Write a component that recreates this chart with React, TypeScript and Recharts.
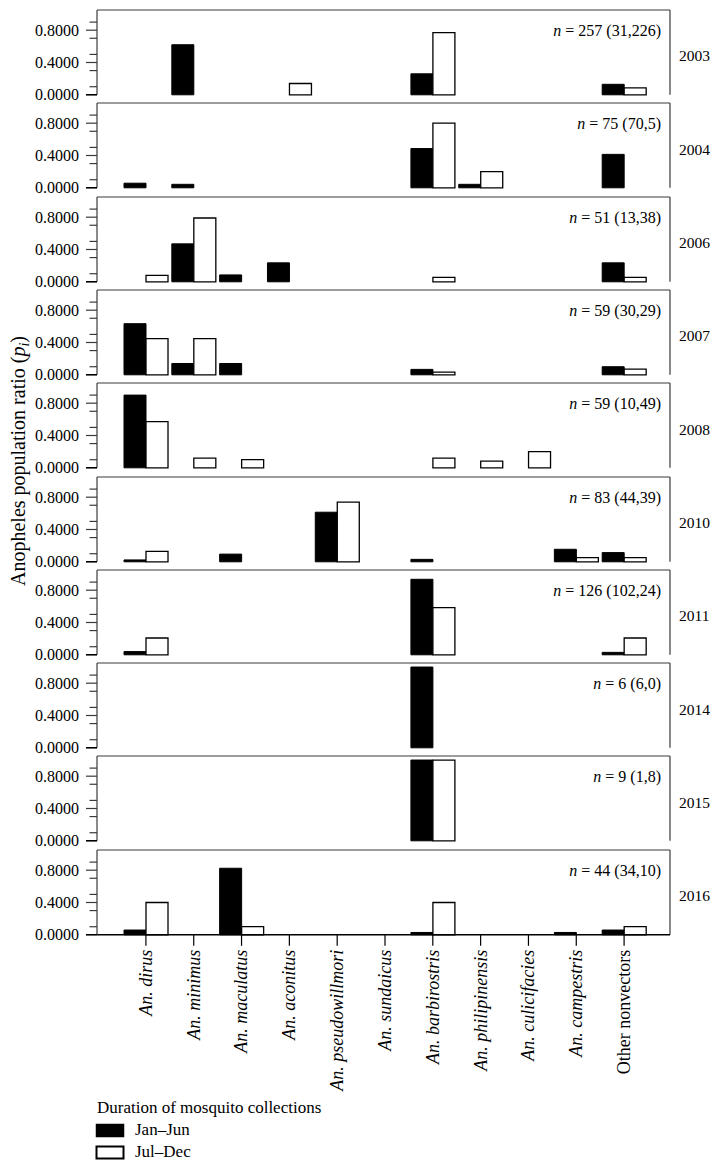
import React from 'react';
import { BarChart, Bar, XAxis, YAxis, CartesianGrid } from 'recharts';

// ---------- data ----------
const categories = [
  'An. dirus',
  'An. minimus',
  'An. maculatus',
  'An. aconitus',
  'An. pseudowillmori',
  'An. sundaicus',
  'An. barbirostris',
  'An. philipinensis',
  'An. culicifacies',
  'An. campestris',
  'Other nonvectors',
];

const years = ['2003', '2004', '2006', '2007', '2008', '2010', '2011', '2014', '2015', '2016'];

const sampleSizes = [
  '257 (31,226)',
  '75 (70,5)',
  '51 (13,38)',
  '59 (30,29)',
  '59 (10,49)',
  '83 (44,39)',
  '126 (102,24)',
  '6 (6,0)',
  '9 (1,8)',
  '44 (34,10)',
];

const janJun2003 = [0, 0.62, 0, 0, 0, 0, 0.26, 0, 0, 0, 0.13];
const julDec2003 = [0, 0, 0, 0.14, 0, 0, 0.77, 0, 0, 0, 0.085];
const janJun2004 = [0.057, 0.043, 0, 0, 0, 0, 0.486, 0.043, 0, 0, 0.414];
const julDec2004 = [0, 0, 0, 0, 0, 0, 0.8, 0.2, 0, 0, 0];
const janJun2006 = [0, 0.47, 0.085, 0.235, 0, 0, 0, 0, 0, 0, 0.235];
const julDec2006 = [0.08, 0.79, 0, 0, 0, 0, 0.055, 0, 0, 0, 0.055];
const janJun2007 = [0.633, 0.14, 0.14, 0, 0, 0, 0.067, 0, 0, 0, 0.1];
const julDec2007 = [0.448, 0.448, 0, 0, 0, 0, 0.034, 0, 0, 0, 0.069];
const janJun2008 = [0.9, 0, 0, 0, 0, 0, 0, 0, 0, 0, 0];
const julDec2008 = [0.571, 0.12, 0.1, 0, 0, 0, 0.12, 0.082, 0.2, 0, 0];
const janJun2010 = [0.023, 0, 0.095, 0, 0.614, 0, 0.03, 0, 0, 0.155, 0.114];
const julDec2010 = [0.128, 0, 0, 0, 0.74, 0, 0, 0, 0, 0.051, 0.051];
const janJun2011 = [0.04, 0, 0, 0, 0, 0, 0.935, 0, 0, 0, 0.03];
const julDec2011 = [0.208, 0, 0, 0, 0, 0, 0.583, 0, 0, 0, 0.208];
const janJun2014 = [0, 0, 0, 0, 0, 0, 1, 0, 0, 0, 0];
const julDec2014 = [0, 0, 0, 0, 0, 0, 0, 0, 0, 0, 0];
const janJun2015 = [0, 0, 0, 0, 0, 0, 1, 0, 0, 0, 0];
const julDec2015 = [0, 0, 0, 0, 0, 0, 1, 0, 0, 0, 0];
const janJun2016 = [0.059, 0, 0.824, 0, 0, 0, 0.029, 0, 0, 0.029, 0.059];
const julDec2016 = [0.4, 0, 0.1, 0, 0, 0, 0.4, 0, 0, 0, 0.1];

const janJunSeries = [janJun2003, janJun2004, janJun2006, janJun2007, janJun2008, janJun2010, janJun2011, janJun2014, janJun2015, janJun2016];
const julDecSeries = [julDec2003, julDec2004, julDec2006, julDec2007, julDec2008, julDec2010, julDec2011, julDec2014, julDec2015, julDec2016];

const seriesNames = ['Jan\u2013Jun', 'Jul\u2013Dec'];
const yTicks = [0, 0.1, 0.3, 0.4, 0.5, 0.7, 0.8, 0.9];
const yMajor = [0, 0.4, 0.8];

// ---------- layout ----------
const W = 723;
const H = 1170;
const PLOT_LEFT = 97;
const PLOT_RIGHT = 670;
const FIRST_TOP = 10;
const PITCH = 93.3;
const PLOT_H = 84.8;
const M = 6;
const X_AXIS_H = 170;
const FONT = "'Liberation Serif', 'Times New Roman', serif";
const BORDER = '#3a3a3a';

const YTick = (props: any) => {
  const { x, y, payload } = props;
  const v = payload.value;
  const major = yMajor.some((m) => Math.abs(m - v) < 1e-6);
  const len = major ? 11 : 7.5;
  return (
    <g>
      <line x1={x - len} x2={x} y1={y} y2={y} stroke={v === 0 ? '#000' : BORDER} strokeWidth={v === 0 ? 1.6 : 1.2} />
      {major && (
        <text x={x - 18} y={y} dy="0.35em" textAnchor="end" fontSize={16} fill="#000" fontFamily={FONT}>
          {v.toFixed(4)}
        </text>
      )}
    </g>
  );
};

const XTick = (props: any) => {
  const { x, y, payload } = props;
  const italic = payload.value !== 'Other nonvectors';
  return (
    <text
      x={x}
      y={y}
      transform={`rotate(-90, ${x}, ${y})`}
      textAnchor="end"
      dy="0.33em"
      fontSize={18}
      fill="#000"
      fontFamily={FONT}
      fontStyle={italic ? 'italic' : 'normal'}
    >
      {payload.value}
    </text>
  );
};

const plotTop = (i: number) => FIRST_TOP + PITCH * i;

const Panel = ({ index }: { index: number }) => {
  const last = index === years.length - 1;
  const data = categories.map((name, k) => ({
    name,
    janJun: janJunSeries[index][k],
    julDec: julDecSeries[index][k],
  }));
  const height = M + PLOT_H + (last ? X_AXIS_H : M);
  return (
    <div style={{ position: 'absolute', left: 0, top: plotTop(index) - M }}>
      <BarChart
        width={W}
        height={height}
        data={data}
        margin={{ top: M, right: W - PLOT_RIGHT, bottom: last ? 0 : M, left: 0 }}
        barGap={0}
        barCategoryGap={2}
      >
        <CartesianGrid
          horizontalPoints={[M]}
          verticalPoints={[PLOT_RIGHT]}
          stroke={BORDER}
          strokeWidth={1.2}
        />
        <XAxis
          dataKey="name"
          height={last ? X_AXIS_H : 0}
          interval={0}
          padding={{ left: 25, right: 22 }}
          axisLine={{ stroke: '#000', strokeWidth: 1.6 }}
          tickLine={last ? { stroke: '#000', strokeWidth: 1.2 } : false}
          tickSize={11}
          tickMargin={4}
          tick={last ? <XTick /> : false}
        />
        <YAxis
          width={PLOT_LEFT}
          domain={[0, 1.05]}
          ticks={yTicks}
          interval={0}
          tickLine={false}
          tickSize={0}
          tickMargin={0}
          axisLine={{ stroke: BORDER, strokeWidth: 1.2 }}
          tick={<YTick />}
        />
        <Bar dataKey="janJun" name={seriesNames[0]} fill="#000" stroke="#000" strokeWidth={1} isAnimationActive={false} />
        <Bar dataKey="julDec" name={seriesNames[1]} fill="#fff" stroke="#000" strokeWidth={1.3} isAnimationActive={false} />
      </BarChart>
    </div>
  );
};

export default function App() {
  return (
    <div style={{ position: 'absolute', left: 0, top: 0, width: W, height: H, background: '#fff', fontFamily: FONT }}>
      <style>{`.recharts-surface{overflow:visible}`}</style>
      {years.map((_, i) => (
        <Panel key={i} index={i} />
      ))}
      <svg width={W} height={H} style={{ position: 'absolute', left: 0, top: 0, pointerEvents: 'none', overflow: 'visible' }}>
        {/* y-axis title */}
        <text
          x={18}
          y={461}
          transform="rotate(-90, 18, 461)"
          textAnchor="middle"
          dy="0.35em"
          fontSize={20}
          fontFamily={FONT}
          fill="#000"
        >
          Anopheles population ratio (<tspan fontStyle="italic">p</tspan>
          <tspan fontStyle="italic" fontSize={14} dy={4}>i</tspan>
          <tspan dy={-4}>)</tspan>
        </text>
        {years.map((yr, i) => (
          <g key={yr}>
            <text x={661} y={plotTop(i) + 26} textAnchor="end" fontSize={16} fontFamily={FONT} fill="#000">
              <tspan fontStyle="italic">n</tspan> = {sampleSizes[i]}
            </text>
            <text x={679} y={plotTop(i) + PLOT_H / 2 + 9} fontSize={15.5} fontFamily={FONT} fill="#000">
              {yr}
            </text>
          </g>
        ))}
        {/* legend */}
        <text x={97} y={1113} fontSize={17} fontFamily={FONT} fill="#000">
          Duration of mosquito collections
        </text>
        <rect x={96.5} y={1124.5} width={27} height={12} fill="#000" stroke="#000" strokeWidth={1.5} />
        <text x={135} y={1135} fontSize={17} fontFamily={FONT} fill="#000">
          {seriesNames[0]}
        </text>
        <rect x={96.5} y={1146.5} width={27} height={12} fill="#fff" stroke="#000" strokeWidth={2} />
        <text x={135} y={1157} fontSize={17} fontFamily={FONT} fill="#000">
          {seriesNames[1]}
        </text>
      </svg>
    </div>
  );
}
